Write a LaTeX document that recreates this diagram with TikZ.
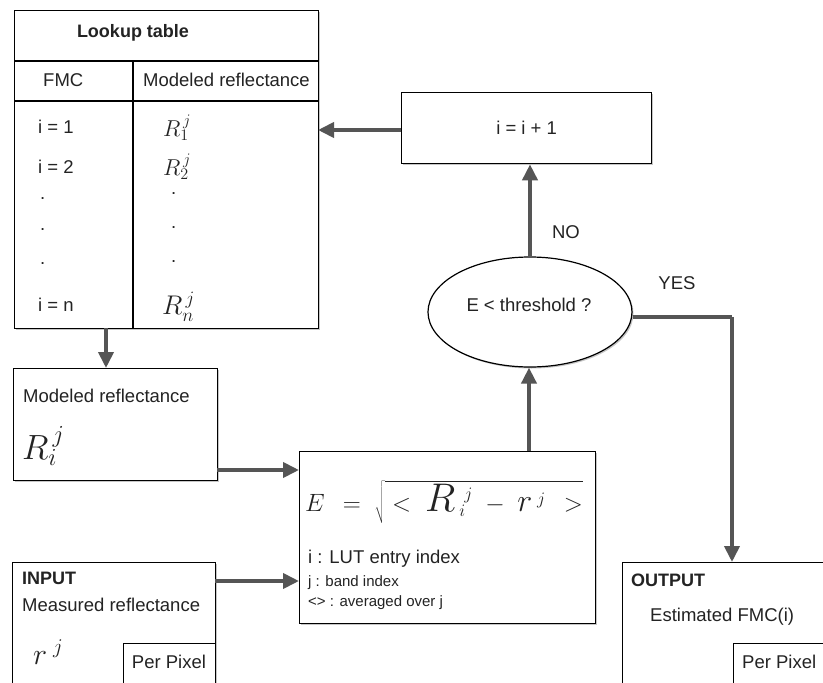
\RequirePackage{fix-cm}
\documentclass[tikz,border=0pt]{standalone}
\usepackage{fontspec}
\setmainfont{Liberation Sans}
\usetikzlibrary{arrows.meta,shapes.geometric,shadows}
\definecolor{arrowgray}{RGB}{85,85,85}
\definecolor{txt}{RGB}{35,35,35}
\tikzset{
  box/.style={draw=black, line width=1.3pt, fill=white, rectangle, inner sep=0pt,
    anchor=north west, drop shadow={shadow xshift=1.6pt, shadow yshift=-1.6pt, fill=gray!45, opacity=1}},
  plainbox/.style={draw=black, line width=1.2pt, fill=white, rectangle, inner sep=0pt, anchor=north west},
  flow/.style={draw=arrowgray, line width=3.8pt, -{Triangle[length=16pt,width=15pt]}},
  flowline/.style={draw=arrowgray, line width=3.8pt},
  lbl/.style={text=txt, font=\fontsize{18.5}{21}\selectfont, inner sep=0pt},
  lblw/.style={lbl, anchor=west},
  bold/.style={text=txt, font=\fontsize{18}{21}\selectfont\bfseries, inner sep=0pt, anchor=west},
  small/.style={text=txt, font=\fontsize{15}{17}\selectfont, inner sep=0pt, anchor=west},
  mth/.style={text=txt, inner sep=0pt}
}
\begin{document}
\begin{tikzpicture}[x=1pt,y=-1pt]
\useasboundingbox (0,0) rectangle (823,683);
\clip (0,0) rectangle (823,683);
\fill[white] (0,0) rectangle (823,683);

% ---------- Lookup table ----------
\node[box, minimum width=304, minimum height=318] (lut) at (14,10) {};
\coordinate (h1l) at (14,61);  \coordinate (h1r) at (318,61);
\coordinate (h2l) at (14,101); \coordinate (h2r) at (318,101);
\coordinate (vt) at (133,61);  \coordinate (vb) at (133,328);
\draw[line width=1.3pt] (h1l) -- (h1r);
\draw[line width=1.3pt] (h2l) -- (h2r);
\draw[line width=1.3pt] (vt) -- (vb);
\node[bold, anchor=center] (luttitle) at (133,33) {Lookup table};
\node[lblw] (fmc) at (43,80) {FMC};
\node[lblw] (modh) at (143,80) {Modeled reflectance};
\node[lblw] (i1) at (38,127) {i = 1};
\node[lblw] (i2) at (38,167) {i = 2};
\node[lblw] (d1) at (40,199) {.};
\node[lblw] (d2) at (40,230) {.};
\node[lblw] (d3) at (40,264) {.};
\node[lblw] (in) at (38,305) {i = n};
\node[mth, anchor=west] (r1) at (163,128) {\fontsize{23}{25}\selectfont$R_{1}^{\,j}$};
\node[mth, anchor=west] (r2) at (163,167) {\fontsize{23}{25}\selectfont$R_{2}^{\,j}$};
\node[lblw] (e1) at (171,194) {.};
\node[lblw] (e2) at (171,228) {.};
\node[lblw] (e3) at (171,262) {.};
\node[mth, anchor=west] (rn) at (162,307) {\fontsize{27}{29}\selectfont$R_{n}^{\,j}$};

% ---------- i = i + 1 ----------
\node[box, minimum width=250, minimum height=71] (inc) at (401,92) {};
\node[lbl] (inct) at (inc.center) {i = i + 1};

% ---------- decision ----------
\node[ellipse, draw=black, line width=1.2pt, fill=white, minimum width=204, minimum height=110,
      drop shadow={shadow xshift=1.5pt, shadow yshift=-1.5pt, fill=gray!45, opacity=1}] (dec) at (530,312) {};
\node[lbl] (dect) at (529,305) {E < threshold ?};
\node[lbl] (no) at (566,232) {NO};
\node[lbl] (yes) at (677,283) {YES};

% ---------- modeled reflectance box ----------
\node[box, minimum width=204, minimum height=112] (mod) at (13,368) {};
\node[lblw] (modt) at (23,396) {Modeled reflectance};
\node[mth, anchor=west] (modr) at (22,446) {\fontsize{35}{38}\selectfont$R_{i}^{\,j}$};

% ---------- error box ----------
\node[box, minimum width=296, minimum height=172] (err) at (299,451) {};
\node[mth, anchor=west] (form) at (305,502) {\fontsize{25}{30}\selectfont$E\;\,=\;\sqrt{\rule[-10pt]{0pt}{38pt}<\;\mbox{\fontsize{40}{42}\selectfont$R$}\,{}_{i}^{\;j}\;-\;\mbox{\fontsize{32}{34}\selectfont$r$}^{\;j}\;\,>}$};
\node[lblw] (l1) at (308,559) {i : LUT entry index};
\node[small] (l2) at (308,583) {j : band index};
\node[small] (l3) at (308,603) {<> : averaged over j};

% ---------- input box ----------
\node[box, minimum width=203, minimum height=140] (inp) at (12,562) {};
\node[bold] (inpt) at (22,578) {INPUT};
\node[lblw] (inpm) at (22,605) {Measured reflectance};
\node[mth, anchor=west] (inpr) at (33,652) {\fontsize{30}{32}\selectfont$r^{\;j}$};
\node[plainbox, minimum width=92, minimum height=60] (pp1) at (123,643) {};
\node[lbl] (pp1t) at (169,662) {Per Pixel};

% ---------- output box ----------
\node[box, minimum width=230, minimum height=140] (out) at (622,562) {};
\node[bold] (outt) at (631,580) {OUTPUT};
\node[lblw] (oute) at (650,617) {Estimated FMC(i)};
\node[plainbox, minimum width=120, minimum height=60] (pp2) at (733,643) {};
\node[lblw] (pp2t) at (742,662) {Per Pixel};

% ---------- connectors ----------
\coordinate (lutin) at (318,130);
\draw[flow] (inc.west |- lutin) -- (lutin);
\draw[flow] (dec.north) -- (dec.north |- inc.south);
\coordinate (errtop) at (529,451);
\draw[flow] (errtop) -- (errtop |- dec.south);
\coordinate (yescorner) at (732,317);
\coordinate (outin) at (732,562);
\draw[flowline] (dec.east |- yescorner) -- (yescorner);
\draw[flow] (yescorner) -- (outin);
\coordinate (lutout) at (106,328);
\draw[flow] (lutout) -- (lutout |- mod.north);
\coordinate (modout) at (217,470);
\draw[flow] (modout) -- (modout -| err.west);
\coordinate (inpout) at (215,581);
\draw[flow] (inpout) -- (inpout -| err.west);
\end{tikzpicture}
\end{document}
